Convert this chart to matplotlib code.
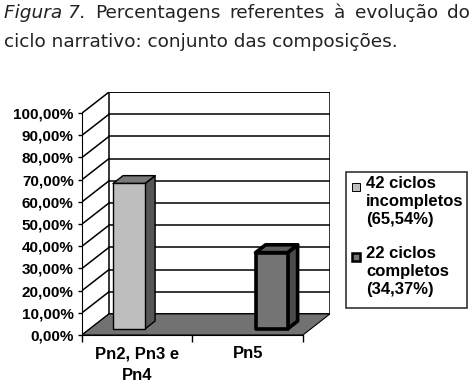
import matplotlib
matplotlib.use('Agg')
import matplotlib.pyplot as plt
from matplotlib.patches import Polygon, Rectangle

# data
categories = ['Pn2, Pn3 e\nPn4', 'Pn5']
series_labels = ['42 ciclos\nincompletos\n(65,54%)', '22 ciclos\ncompletos\n(34,37%)']
incompletos = [65.54, 0.0]
completos = [0.0, 34.37]
yticks = [0, 10, 20, 30, 40, 50, 60, 70, 80, 90, 100]
ytick_labels = ['%d,00%%' % v for v in yticks]

series = [incompletos, completos]
front_colors = ['#bebebe', '#747474']
side_colors = ['#565656', '#4a4a4a']
top_colors = ['#7a7a7a', '#5e5e5e']
edge_widths = [1.0, 2.6]

narrow = ['Liberation Sans Narrow', 'Liberation Sans', 'DejaVu Sans']

W, H = 477, 388
fig = plt.figure(figsize=(W / 100, H / 100), dpi=100)
ax = fig.add_axes([82 / W, 1 - 335 / H, 248 / W, 243 / H])

# 3d depth offsets (data units)
D = 0.245
DY = 9.5
ncat = len(categories)
ax.set_xlim(0, ncat + D)
ax.set_ylim(0, 100 + DY)
ax.patch.set_visible(False)

# back wall + gridlines
ax.add_patch(Rectangle((D, DY), ncat, 100, facecolor='white', edgecolor='black', lw=1.1, zorder=1))
for v in yticks:
    ax.plot([D, ncat + D], [v + DY, v + DY], color='black', lw=1.1, zorder=2)
    # left wall diagonals
    ax.plot([0, D], [v, v + DY], color='black', lw=1.1, zorder=2)

# floor
ax.add_patch(Polygon([(0, 0), (ncat, 0), (ncat + D, DY), (D, DY)], closed=True,
                     facecolor='#727272', edgecolor='black', lw=0.8, zorder=3))

# bars (clustered, with depth)
w = 0.29
margin = (1 - len(series) * w) / 2
z0, z1 = 0.29, 0.66
for s, vals in enumerate(series):
    for i, v in enumerate(vals):
        if v <= 0:
            continue
        xl = i + margin + s * w + z0 * D
        xr = xl + w
        yb = z0 * DY
        yt = v + z0 * DY
        ddx = (z1 - z0) * D
        ddy = (z1 - z0) * DY
        kw = dict(edgecolor='black', lw=edge_widths[s], joinstyle='round', zorder=5)
        ax.add_patch(Polygon([(xr, yb), (xr + ddx, yb + ddy), (xr + ddx, yt + ddy), (xr, yt)],
                             facecolor=side_colors[s], **kw))
        ax.add_patch(Polygon([(xl, yt), (xr, yt), (xr + ddx, yt + ddy), (xl + ddx, yt + ddy)],
                             facecolor=top_colors[s], **kw))
        ax.add_patch(Rectangle((xl, yb), w, yt - yb, facecolor=front_colors[s], **kw))

# axes
for sp in ['top', 'right']:
    ax.spines[sp].set_visible(False)
ax.spines['left'].set_bounds(0, 100)
ax.spines['bottom'].set_bounds(0, ncat)
ax.spines['left'].set_zorder(6)
ax.spines['bottom'].set_zorder(6)
ax.set_yticks(yticks)
ax.set_yticklabels(ytick_labels, family=narrow, fontweight='bold', fontsize=11)
ax.tick_params(axis='y', length=3, width=1, pad=3)
ax.set_xticks([i + 0.5 for i in range(ncat)])
ax.set_xticklabels(categories, family=narrow, fontweight='bold', fontsize=12, linespacing=1.6)
ax.set_xticks(list(range(ncat + 1)), minor=True)
ax.tick_params(axis='x', which='major', length=0, pad=8)
ax.tick_params(axis='x', which='minor', length=5, width=1)

# legend (drawn by hand to keep markers at first line)
lx0, ly0, lx1, ly1 = 346, 172, 467, 308
fig.patches.append(Rectangle((lx0 / W, 1 - ly1 / H), (lx1 - lx0) / W, (ly1 - ly0) / H,
                             transform=fig.transFigure, facecolor='white',
                             edgecolor='#333333', lw=1.2))
for s, lab in enumerate(series_labels):
    ty = 176 + s * 70
    fig.patches.append(Rectangle((352 / W, 1 - (ty + 15) / H), 8 / W, 8 / H,
                                 transform=fig.transFigure, facecolor=front_colors[s],
                                 edgecolor='black', lw=edge_widths[s] * 0.7))
    fig.text(366 / W, 1 - ty / H, lab, family=narrow, fontweight='bold', fontsize=12,
             va='top', ha='left', linespacing=1.25)

# caption, first line justified between 4 and 470 px
cap_words = ['Figura 7.', 'Percentagens', 'referentes', 'à', 'evolução', 'do']
renderer = fig.canvas.get_renderer()
texts = []
for k, wd in enumerate(cap_words):
    t = fig.text(0, 1 - 4 / H, wd, fontsize=13.3, color='#222222', va='top', ha='left',
                 style='italic' if k == 0 else 'normal')
    texts.append(t)
widths = [t.get_window_extent(renderer).width for t in texts]
gap = (466 - sum(widths)) / (len(cap_words) - 1)
xpos = 4
for t, wd in zip(texts, widths):
    t.set_x(xpos / W)
    xpos += wd + gap
fig.text(4 / W, 1 - 33 / H, 'ciclo narrativo: conjunto das composições.', fontsize=13.3,
         color='#222222', va='top', ha='left')

fig.savefig('out.png', dpi=100)
